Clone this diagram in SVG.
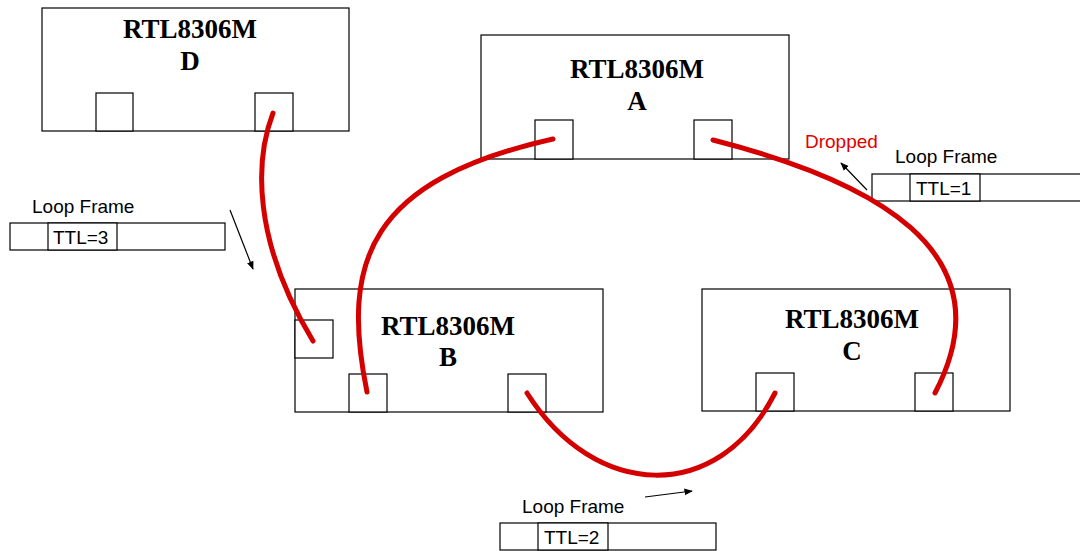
<svg xmlns="http://www.w3.org/2000/svg" width="1080" height="551" viewBox="0 0 1080 551">
<style>
.box{fill:#fff;stroke:#000;stroke-width:1.2}
.port{fill:#fff;stroke:#000;stroke-width:1.2}
.title{font-family:"Liberation Serif",serif;font-weight:bold;font-size:27px;text-anchor:middle;fill:#000}
.lbl{font-family:"Liberation Sans",sans-serif;font-size:19px;fill:#000}
.link{fill:none;stroke:#d40000;stroke-width:5;stroke-linecap:round}
.ptr{fill:none;stroke:#000;stroke-width:1.2}
</style>
<defs>
<marker id="ah" viewBox="0 0 10 10" refX="9" refY="5" markerWidth="7" markerHeight="7" orient="auto">
<path d="M0,1 L10,5 L0,9 z" fill="#000"/>
</marker>
</defs>
<rect width="1080" height="551" fill="#fff"/>
<g id="nodeD">
<rect class="box" x="42" y="8" width="307" height="123"/>
<rect class="port" x="96" y="93" width="37" height="38"/>
<rect class="port" x="255" y="93" width="38" height="38"/>
<text class="title" x="190" y="38">RTL8306M</text>
<text class="title" x="190" y="70">D</text>
</g>
<g id="nodeA">
<rect class="box" x="481" y="35" width="308" height="124"/>
<rect class="port" x="535" y="120" width="38" height="39"/>
<rect class="port" x="694" y="120" width="38" height="39"/>
<text class="title" x="637" y="78">RTL8306M</text>
<text class="title" x="637" y="110">A</text>
</g>
<g id="nodeB">
<rect class="box" x="295" y="289" width="308" height="123"/>
<rect class="port" x="295" y="320" width="38" height="38"/>
<rect class="port" x="349" y="374" width="38" height="38"/>
<rect class="port" x="508" y="374" width="38" height="38"/>
<text class="title" x="448" y="335">RTL8306M</text>
<text class="title" x="448" y="366">B</text>
</g>
<g id="nodeC">
<rect class="box" x="702" y="289" width="308" height="122"/>
<rect class="port" x="756" y="373" width="38" height="38"/>
<rect class="port" x="915" y="373" width="38" height="38"/>
<text class="title" x="852" y="328">RTL8306M</text>
<text class="title" x="852" y="360">C</text>
</g>
<g id="frame3">
<text class="lbl" x="32" y="213">Loop Frame</text>
<rect class="box" x="10" y="223" width="215" height="27"/>
<rect class="box" x="48" y="223" width="69" height="27"/>
<text class="lbl" x="53" y="244">TTL=3</text>
</g>
<g id="frame1">
<text class="lbl" x="895" y="163">Loop Frame</text>
<rect class="box" x="872" y="174" width="215" height="27"/>
<rect class="box" x="910" y="174" width="70" height="27"/>
<text class="lbl" x="916" y="195">TTL=1</text>
<text class="lbl" x="805" y="148" style="fill:#e00000">Dropped</text>
</g>
<g id="frame2">
<text class="lbl" x="522" y="513">Loop Frame</text>
<rect class="box" x="500" y="523" width="216" height="27"/>
<rect class="box" x="538" y="523" width="70" height="27"/>
<text class="lbl" x="544" y="544">TTL=2</text>
</g>
<g id="connectors">
<path class="link" d="M273,113 C255,160 252,240 313,341"/>
<path class="link" d="M367,392 C340,260 370,180 553,139"/>
<path class="link" d="M713,140 C870,180 1010,250 935,393"/>
<path class="link" d="M527,393 C595,500 718,505 775,393"/>
<line class="ptr" x1="230" y1="210" x2="253" y2="269" marker-end="url(#ah)"/>
<line class="ptr" x1="867" y1="190" x2="841" y2="163" marker-end="url(#ah)"/>
<line class="ptr" x1="645" y1="497" x2="692" y2="491" marker-end="url(#ah)"/>
</g>
</svg>
